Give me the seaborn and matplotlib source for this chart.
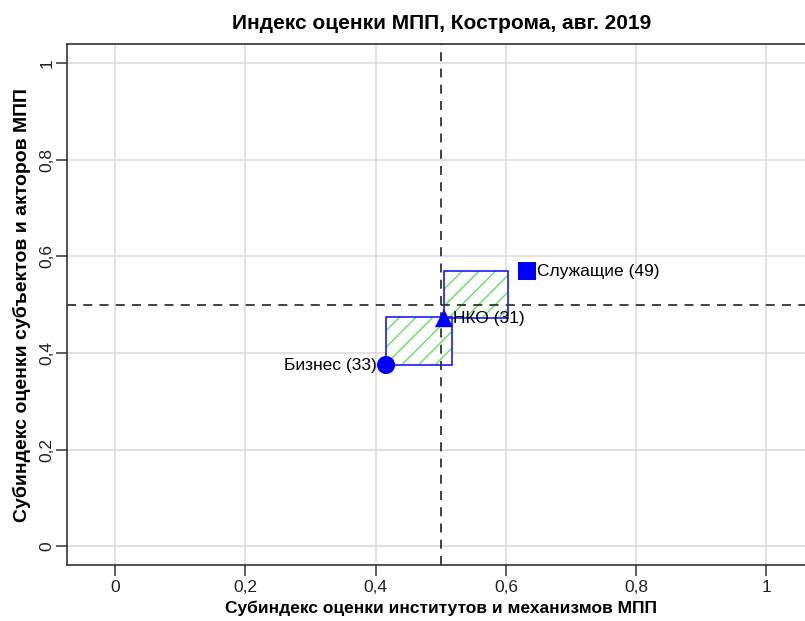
import pandas as pd
import numpy as np
import seaborn as sns
import matplotlib.pyplot as plt
from matplotlib.patches import Rectangle

# Data
groups = ["Бизнес (33)", "НКО (31)", "Служащие (49)"]
x_inst = [0.416, 0.505, 0.632]
y_subj = [0.375, 0.472, 0.569]
group_markers = ["o", "^", "s"]

# hatched boxes: (x0, y0, x1, y1)
boxes = [(0.416, 0.375, 0.517, 0.474),
         (0.505, 0.472, 0.604, 0.569)]

ticks = [0, 0.2, 0.4, 0.6, 0.8, 1]
tick_labels = ["0", "0,2", "0,4", "0,6", "0,8", "1"]
threshold = 0.5

df = pd.DataFrame({"group": groups, "x": x_inst, "y": y_subj})

sns.set_theme(style="whitegrid")
plt.rcParams['font.family'] = ['Liberation Sans', 'DejaVu Sans']
plt.rcParams['text.color'] = 'black'
plt.rcParams['axes.labelcolor'] = 'black'

fig = plt.figure(figsize=(8.05, 6.21), dpi=100)
ax = fig.add_axes([0.083, 0.090, 0.929, 0.839])

# boxes first, under everything
for x0, y0, x1, y1 in boxes:
    ax.add_patch(Rectangle((x0, y0), x1 - x0, y1 - y0, facecolor="white",
                           edgecolor="#66dd66", hatch="//", lw=0, zorder=2))
    ax.add_patch(Rectangle((x0, y0), x1 - x0, y1 - y0, facecolor="none",
                           edgecolor="#1a1aff", lw=1.2, zorder=3))

ax.axvline(threshold, color="#333333", ls=(0, (5, 4)), lw=1.3, zorder=4)
ax.axhline(threshold, color="#333333", ls=(0, (5, 4)), lw=1.3, zorder=4)

sns.scatterplot(data=df, x="x", y="y", style="group", markers=group_markers,
                color="#0000ff", s=170, edgecolor="none", legend=False, ax=ax, zorder=5)

# point labels
ax.text(x_inst[0] - 0.014, y_subj[0], groups[0], ha="right", va="center", fontsize=12.5, zorder=6)
ax.text(x_inst[1] + 0.014, y_subj[1], groups[1], ha="left", va="center", fontsize=12.5, zorder=6)
ax.text(x_inst[2] + 0.016, y_subj[2], groups[2], ha="left", va="center", fontsize=12.5, zorder=6)

ax.set_xlim(-0.074, 1.074)
ax.set_ylim(-0.039, 1.039)
ax.set_xticks(ticks)
ax.set_xticklabels(tick_labels, fontsize=12.5)
ax.set_yticks(ticks)
ax.set_yticklabels(tick_labels, fontsize=12.5, rotation=90, va="center")
ax.tick_params(axis="both", which="major", length=8, width=1.1, color="#333333",
               labelcolor="#222222", direction="out", bottom=True, left=True, pad=3)
ax.tick_params(axis="y", pad=1)
ax.grid(True, color="#d9d9d9", lw=1.1)
for sp in ax.spines.values():
    sp.set_color("#333333")
    sp.set_linewidth(1.2)

ax.set_xlabel("Субиндекс оценки институтов и механизмов МПП", fontsize=12.5,
              fontweight="bold", labelpad=4)
ax.set_ylabel("Субиндекс оценки субъектов и акторов МПП", fontsize=14,
              fontweight="bold", labelpad=6)
fig.text(0.549, 0.962, "Индекс оценки МПП, Кострома, авг. 2019", ha="center", va="center",
         fontsize=15, fontweight="bold")

fig.savefig("out.png", dpi=100)
